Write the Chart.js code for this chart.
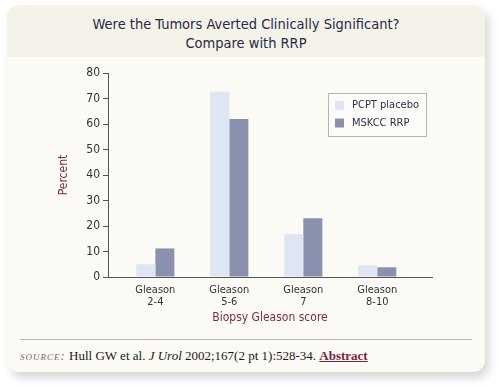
<!DOCTYPE html>
<html>
<head>
<meta charset="utf-8">
<script src="https://cdn.jsdelivr.net/npm/chart.js@4/dist/chart.umd.min.js"></script>
<style>
  html, body { margin: 0; padding: 0; background: #ffffff; }
  body { width: 500px; height: 389px; position: relative; overflow: hidden; }
  .card {
    position: absolute; left: 7px; top: 5px; width: 478px; height: 367px;
    background: #fbfaf5; border-radius: 12px;
    box-shadow: 4px 6px 10px rgba(0,0,0,0.16);
    overflow: hidden;
  }
  .head {
    height: 52px; background: #f5f2e9;
    font-family: "Liberation Sans Narrow", "DejaVu Sans Condensed", sans-serif;
    font-size: 14.5px; color: #252b48; text-align: center; line-height: 19px;
    padding-top: 10px; box-sizing: border-box;
  }
  .rule { position: absolute; left: 13px; top: 334px; width: 452px; height: 0; border-top: 1.5px solid #b8b8b4; }
  .src {
    position: absolute; left: 13px; top: 343px; white-space: nowrap;
    font-family: "Liberation Serif", "DejaVu Serif", serif; font-size: 13px; color: #1a1a1a;
  }
  .src .lab { font-style: italic; font-variant: small-caps; letter-spacing: 1px; color: #8c5a6c; font-size: 13px; }
  .src i { font-style: italic; }
  .src a { color: #7a2540; font-weight: bold; text-decoration: underline; }
  #c { position: absolute; left: 0; top: 0; }
</style>
</head>
<body>
<div class="card">
  <div class="head">Were the Tumors Averted Clinically Significant?<br>Compare with RRP</div>
  <div class="rule"></div>
  <div class="src"><span class="lab">source:</span> Hull GW et al. <i>J Urol</i> 2002;167(2 pt 1):528-34. <a>Abstract</a></div>
</div>
<canvas id="c" width="500" height="389"></canvas>
<script>
// ---- data ----
const categories = [["Gleason", "2-4"], ["Gleason", "5-6"], ["Gleason", "7"], ["Gleason", "8-10"]];
const placebo = [5.0, 72.6, 16.8, 4.6];
const rrp = [11.2, 62.0, 23.0, 3.8];
const seriesNames = ["PCPT placebo", "MSKCC RRP"];
const yTicks = [0, 10, 20, 30, 40, 50, 60, 70, 80];

const narrow = '"Liberation Sans Narrow", "DejaVu Sans Condensed", sans-serif';

// legend box drawn inside the plot, top right
const boxLegend = {
  id: "boxLegend",
  afterDraw(chart) {
    const { ctx, chartArea } = chart;
    const w = 98, h = 43;
    const x = chartArea.right - 104, y = chartArea.top + 20;
    ctx.save();
    ctx.fillStyle = "#fcfbf8";
    ctx.fillRect(x, y, w, h);
    ctx.strokeStyle = "#b4b4b4";
    ctx.lineWidth = 1;
    ctx.strokeRect(x + 0.5, y + 0.5, w, h);
    ctx.font = "11px " + narrow;
    ctx.textBaseline = "middle";
    chart.data.datasets.forEach((ds, i) => {
      const cy = y + 12.5 + i * 17.5;
      ctx.fillStyle = ds.backgroundColor;
      ctx.fillRect(x + 7, cy - 4.5, 9, 9);
      ctx.fillStyle = "#2b3150";
      ctx.fillText(ds.label, x + 24, cy);
    });
    ctx.restore();
  }
};

const toPts = arr => arr.map((v, i) => ({ x: i, y: v }));

new Chart(document.getElementById("c").getContext("2d"), {
  type: "bar",
  data: {
    datasets: [
      { label: seriesNames[0], data: toPts(placebo), backgroundColor: "#dfe5f2", borderWidth: 0 },
      { label: seriesNames[1], data: toPts(rrp), backgroundColor: "#8a91ae", borderWidth: 0 }
    ]
  },
  options: {
    responsive: false,
    animation: false,
    events: [],
    layout: { padding: { left: 40, right: 68, top: 73, bottom: 62 } },
    datasets: { bar: { categoryPercentage: 0.515, barPercentage: 1.0 } },
    plugins: {
      legend: { display: false },
      tooltip: { enabled: false }
    },
    scales: {
      x: {
        type: "linear",
        offset: false,
        min: -0.64,
        max: 3.74,
        afterBuildTicks: s => { s.ticks = categories.map((c, i) => ({ value: i })); },
        afterFit: s => { s.height = 50; },
        grid: { display: false, drawTicks: false },
        border: { display: true, color: "#555555", width: 1 },
        ticks: {
          padding: 7,
          color: "#333333",
          font: { family: narrow, size: 11, lineHeight: 1.12 },
          maxRotation: 0,
          autoSkip: false,
          callback: v => categories[v]
        },
        title: {
          display: true,
          text: "Biopsy Gleason score",
          color: "#7d2b48",
          font: { family: narrow, size: 12 },
          padding: { top: 0, bottom: 2 }
        }
      },
      y: {
        min: 0,
        max: 80,
        afterBuildTicks: s => { s.ticks = yTicks.map(v => ({ value: v })); },
        afterFit: s => { s.width = 68; },
        grid: { display: true, drawOnChartArea: false, drawTicks: true, tickLength: 5, color: "#555555" },
        border: { display: true, color: "#555555", width: 1 },
        ticks: {
          padding: 3,
          color: "#333333",
          font: { family: narrow, size: 12 }
        },
        title: {
          display: true,
          text: "Percent",
          color: "#7d2b48",
          font: { family: narrow, size: 12 },
          padding: { top: 17, bottom: 0 }
        }
      }
    }
  },
  plugins: [boxLegend]
});
</script>
</body>
</html>
